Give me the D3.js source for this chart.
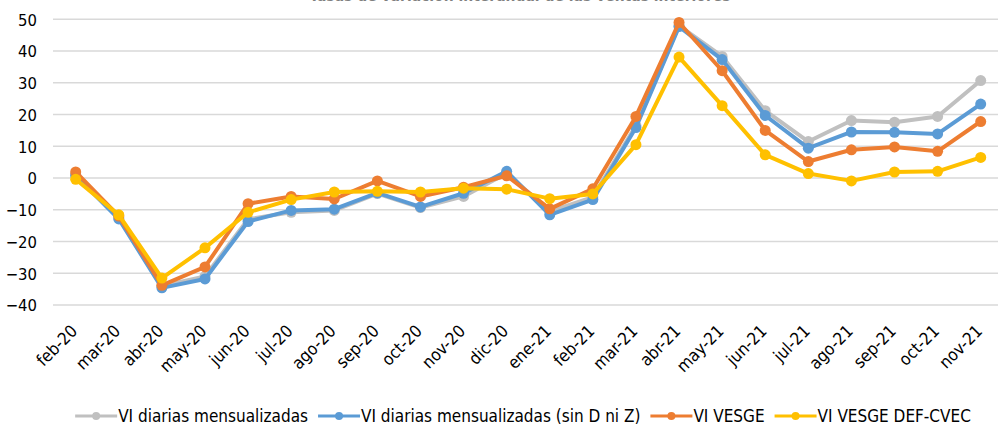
<!DOCTYPE html>
<html><head><meta charset="utf-8">
<script src="https://cdn.jsdelivr.net/npm/d3@7/dist/d3.min.js"></script>
<style>body{margin:0;background:#fff;}svg{display:block;}</style>
</head><body>
<svg id="c" width="998" height="428"></svg>
<script>
const categories = ["feb-20","mar-20","abr-20","may-20","jun-20","jul-20","ago-20","sep-20","oct-20","nov-20","dic-20","ene-21","feb-21","mar-21","abr-21","may-21","jun-21","jul-21","ago-21","sep-21","oct-21","nov-21"];
const viDiarias =       [1.0,-12.5,-34.0,-31.0,-13.0,-10.8,-10.2,-4.9,-9.3,-5.8,1.5,-10.5,-6.0,16.5,48.0,38.3,21.2,11.5,18.1,17.6,19.4,30.7];
const viDiariasSinDZ =  [0.8,-12.9,-34.6,-31.8,-13.7,-10.2,-9.8,-4.7,-9.1,-4.8,2.1,-11.6,-6.8,15.9,47.7,37.3,19.7,9.4,14.5,14.4,13.9,23.3];
const viVesge =         [1.9,-12.0,-33.8,-28.0,-8.1,-5.8,-6.6,-0.9,-5.8,-2.9,0.7,-9.7,-3.4,19.4,49.0,33.8,15.0,5.2,8.9,9.8,8.4,17.8];
const viVesgeDefCvec =  [-0.4,-11.6,-31.5,-22.0,-10.8,-6.8,-4.4,-4.2,-4.4,-3.2,-3.5,-6.5,-5.0,10.5,38.1,22.8,7.3,1.4,-0.9,1.9,2.1,6.5];
const yTicks = [-40,-30,-20,-10,0,10,20,30,40,50];
const seriesNames = ["VI diarias mensualizadas","VI diarias mensualizadas (sin D ni Z)","VI VESGE","VI VESGE DEF-CVEC"];
const seriesColors = ["#C0C0C0","#5B9BD5","#ED7D31","#FFC000"];
const seriesValues = [viDiarias, viDiariasSinDZ, viVesge, viVesgeDefCvec];
const titleText = "Tasas de variación interanual de las ventas interiores";

const svg = d3.select("#c");
const font = "'DejaVu Sans Condensed','DejaVu Sans',sans-serif";
const x = d3.scalePoint().domain(categories).range([75.7, 980.7]);
const y = d3.scaleLinear().domain([-40, 50]).range([305, 19.3]);

// title (clipped at the top, as in the reference)
svg.append("text").attr("x", 520).attr("y", 1).attr("text-anchor","middle")
  .attr("font-family", font).attr("font-weight","bold").attr("font-size", 15.5)
  .attr("fill","#7F7F7F").text(titleText);

// gridlines
svg.append("g").selectAll("line").data(yTicks).join("line")
  .attr("x1", 53).attr("x2", 998)
  .attr("y1", d => y(d)).attr("y2", d => y(d))
  .attr("stroke", "#D9D9D9").attr("stroke-width", 1.5);

// y axis labels
const yAxis = d3.axisLeft(y).tickValues(yTicks).tickSize(0).tickPadding(0).tickFormat(d3.format("d"));
const ya = svg.append("g").attr("transform","translate(37,0)").call(yAxis);
ya.select(".domain").remove();
ya.selectAll("text").attr("font-family", font).attr("font-size", 16.5).attr("fill","#000").attr("dy","0.35em");

// x axis labels
const xAxis = d3.axisBottom(x).tickSize(0).tickPadding(0);
const xa = svg.append("g").attr("transform","translate(0,318)").call(xAxis);
xa.select(".domain").remove();
xa.selectAll("text").attr("font-family", font).attr("font-size", 17).attr("fill","#000")
  .attr("text-anchor","end").attr("dy","0.35em").attr("y",0)
  .attr("transform","translate(-2,10) rotate(-45)");

// lines and markers
const line = d3.line().x((d,i) => x(categories[i])).y(d => y(d));
seriesValues.forEach((vals, k) => {
  const g = svg.append("g");
  g.append("path").datum(vals).attr("d", line).attr("fill","none")
    .attr("stroke", seriesColors[k]).attr("stroke-width", 4).attr("stroke-linejoin","round");
  g.selectAll("circle").data(vals).join("circle")
    .attr("cx",(d,i)=>x(categories[i])).attr("cy", d=>y(d)).attr("r", 5.5)
    .attr("fill", seriesColors[k]);
});

// legend
const lg = svg.append("g");
let cx = 0;
seriesNames.forEach((name, k) => {
  const it = lg.append("g").attr("transform", `translate(${cx},0)`);
  it.append("line").attr("x1",0).attr("x2",42).attr("y1",0).attr("y2",0)
    .attr("stroke", seriesColors[k]).attr("stroke-width",3);
  it.append("circle").attr("cx",21).attr("cy",0).attr("r",4).attr("fill",seriesColors[k]);
  const t = it.append("text").attr("x",43).attr("y",0).attr("dy","0.35em")
    .attr("font-family", font).attr("font-size",17).attr("fill","#000").text(name);
  cx += 43 + t.node().getComputedTextLength() + 10;
});
const totalW = cx - 10;
lg.attr("transform", `translate(${523 - totalW/2},416)`);
</script>
</body></html>
